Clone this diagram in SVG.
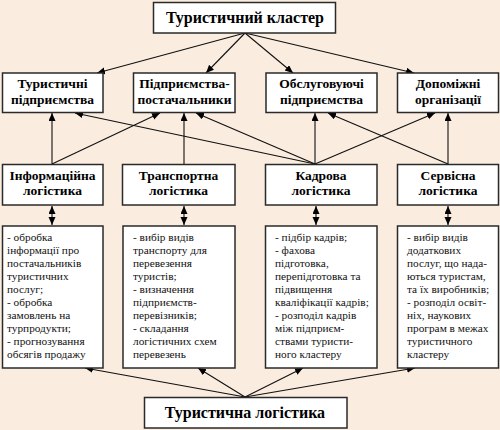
<svg xmlns="http://www.w3.org/2000/svg" width="500" height="430" viewBox="0 0 500 430">
<defs>
<marker id="ah" markerUnits="userSpaceOnUse" markerWidth="9" markerHeight="8" refX="8" refY="3.5" orient="auto-start-reverse">
<path d="M0,0 L8,3.5 L0,7 Z" fill="#000"/>
</marker>
<style>
.box{fill:#fff;stroke:#2a2a2a;stroke-width:1.5}
.h{font-family:"Liberation Serif","Times New Roman",serif;font-weight:bold;fill:#000;text-anchor:middle}
.t1{font-size:16px}
.t2{font-size:13.5px}
.b{font-family:"Liberation Serif","Times New Roman",serif;font-size:11.3px;fill:#111}
.c line{stroke:#111;stroke-width:1.1;marker-end:url(#ah)}
.c line.d{marker-start:url(#ah)}
</style>
</defs>
<rect width="500" height="430" fill="#FAECDF"/>

<g id="connectors" class="c">
<line x1="245" y1="33" x2="97" y2="73"/>
<line x1="245" y1="33" x2="206" y2="73"/>
<line x1="245" y1="33" x2="293" y2="73"/>
<line x1="245" y1="33" x2="414" y2="73"/>
<line x1="52" y1="164" x2="52" y2="113"/>
<line x1="52" y1="164" x2="160" y2="113"/>
<line x1="184" y1="164" x2="184" y2="113"/>
<line x1="315" y1="164" x2="75" y2="113"/>
<line x1="315" y1="164" x2="196" y2="113"/>
<line x1="315" y1="164" x2="315" y2="113"/>
<line x1="315" y1="164" x2="435" y2="113"/>
<line x1="448" y1="164" x2="328" y2="113"/>
<line x1="448" y1="164" x2="448" y2="113"/>
<line class="d" x1="52" y1="206" x2="52" y2="225"/>
<line class="d" x1="184" y1="206" x2="184" y2="225"/>
<line class="d" x1="316" y1="206" x2="316" y2="225"/>
<line class="d" x1="448" y1="206" x2="448" y2="225"/>
<line x1="245" y1="397" x2="85" y2="368"/>
<line x1="245" y1="397" x2="198" y2="368"/>
<line x1="245" y1="397" x2="303" y2="368"/>
<line x1="245" y1="397" x2="415" y2="368"/>
</g>

<g id="cluster">
<rect class="box" x="153.5" y="2.5" width="182" height="30.5"/>
<text class="h t1" x="245" y="23">Туристичний кластер</text>
</g>

<g id="tour-enterprises">
<rect class="box" x="2.5" y="73" width="100.5" height="39.5"/>
<text class="h t2" x="52.5" y="88">Туристичні</text>
<text class="h t2" x="52.5" y="104">підприємства</text>
</g>
<g id="suppliers">
<rect class="box" x="133.5" y="73" width="101.5" height="39.5"/>
<text class="h t2" x="184.5" y="88">Підприємства-</text>
<text class="h t2" x="184.5" y="104">постачальники</text>
</g>
<g id="service-enterprises">
<rect class="box" x="266" y="73" width="111" height="39.5"/>
<text class="h t2" x="321.5" y="88">Обслуговуючі</text>
<text class="h t2" x="321.5" y="104">підприємства</text>
</g>
<g id="auxiliary">
<rect class="box" x="397.5" y="73" width="101" height="39.5"/>
<text class="h t2" x="448" y="88">Допоміжні</text>
<text class="h t2" x="448" y="104">організації</text>
</g>

<g id="info-log">
<rect class="box" x="2.5" y="164.5" width="100.5" height="40.5"/>
<text class="h t2" x="52.5" y="180">Інформаційна</text>
<text class="h t2" x="52.5" y="195">логістика</text>
</g>
<g id="transport-log">
<rect class="box" x="122.5" y="164.5" width="112.5" height="40.5"/>
<text class="h t2" x="178.5" y="180">Транспортна</text>
<text class="h t2" x="178.5" y="195">логістика</text>
</g>
<g id="staff-log">
<rect class="box" x="265.5" y="164.5" width="111.5" height="40.5"/>
<text class="h t2" x="321" y="180">Кадрова</text>
<text class="h t2" x="321" y="195">логістика</text>
</g>
<g id="service-log">
<rect class="box" x="397.5" y="164.5" width="101" height="40.5"/>
<text class="h t2" x="448" y="180">Сервісна</text>
<text class="h t2" x="448" y="195">логістика</text>
</g>

<g id="info-tasks">
<rect class="box" x="2.5" y="226" width="100.5" height="142"/>
<text class="b" x="7" y="241">
<tspan x="7">- обробка</tspan>
<tspan x="7" dy="13">інформації про</tspan>
<tspan x="7" dy="13">постачальників</tspan>
<tspan x="7" dy="13">туристичних</tspan>
<tspan x="7" dy="13">послуг;</tspan>
<tspan x="7" dy="13">- обробка</tspan>
<tspan x="7" dy="13">замовлень на</tspan>
<tspan x="7" dy="13">турпродукти;</tspan>
<tspan x="7" dy="13">- прогнозування</tspan>
<tspan x="7" dy="13">обсягів продажу</tspan>
</text>
</g>
<g id="transport-tasks">
<rect class="box" x="123" y="226" width="112" height="142"/>
<text class="b" x="133" y="241">
<tspan x="133">- вибір видів</tspan>
<tspan x="133" dy="13">транспорту для</tspan>
<tspan x="133" dy="13">перевезення</tspan>
<tspan x="133" dy="13">туристів;</tspan>
<tspan x="133" dy="13">- визначення</tspan>
<tspan x="133" dy="13">підприємств-</tspan>
<tspan x="133" dy="13">перевізників;</tspan>
<tspan x="133" dy="13">- складання</tspan>
<tspan x="133" dy="13">логістичних схем</tspan>
<tspan x="133" dy="13">перевезень</tspan>
</text>
</g>
<g id="staff-tasks">
<rect class="box" x="265.5" y="226" width="111.5" height="142"/>
<text class="b" x="275" y="241">
<tspan x="275">- підбір кадрів;</tspan>
<tspan x="275" dy="13">- фахова</tspan>
<tspan x="275" dy="13">підготовка,</tspan>
<tspan x="275" dy="13">перепідготовка та</tspan>
<tspan x="275" dy="13">підвищення</tspan>
<tspan x="275" dy="13">кваліфікації кадрів;</tspan>
<tspan x="275" dy="13">- розподіл кадрів</tspan>
<tspan x="275" dy="13">між підприєм-</tspan>
<tspan x="275" dy="13">ствами туристи-</tspan>
<tspan x="275" dy="13">ного кластеру</tspan>
</text>
</g>
<g id="service-tasks">
<rect class="box" x="397.5" y="226" width="101" height="142"/>
<text class="b" x="407" y="241">
<tspan x="407">- вибір видів</tspan>
<tspan x="407" dy="13">додаткових</tspan>
<tspan x="407" dy="13">послуг, що нада-</tspan>
<tspan x="407" dy="13">ються туристам,</tspan>
<tspan x="407" dy="13">та їх виробників;</tspan>
<tspan x="407" dy="13">- розподіл освіт-</tspan>
<tspan x="407" dy="13">ніх, наукових</tspan>
<tspan x="407" dy="13">програм в межах</tspan>
<tspan x="407" dy="13">туристичного</tspan>
<tspan x="407" dy="13">кластеру</tspan>
</text>
</g>

<g id="tour-logistics">
<rect class="box" x="144.5" y="397.5" width="202.5" height="30.5"/>
<text class="h t1" x="245" y="418">Туристична логістика</text>
</g>
</svg>
